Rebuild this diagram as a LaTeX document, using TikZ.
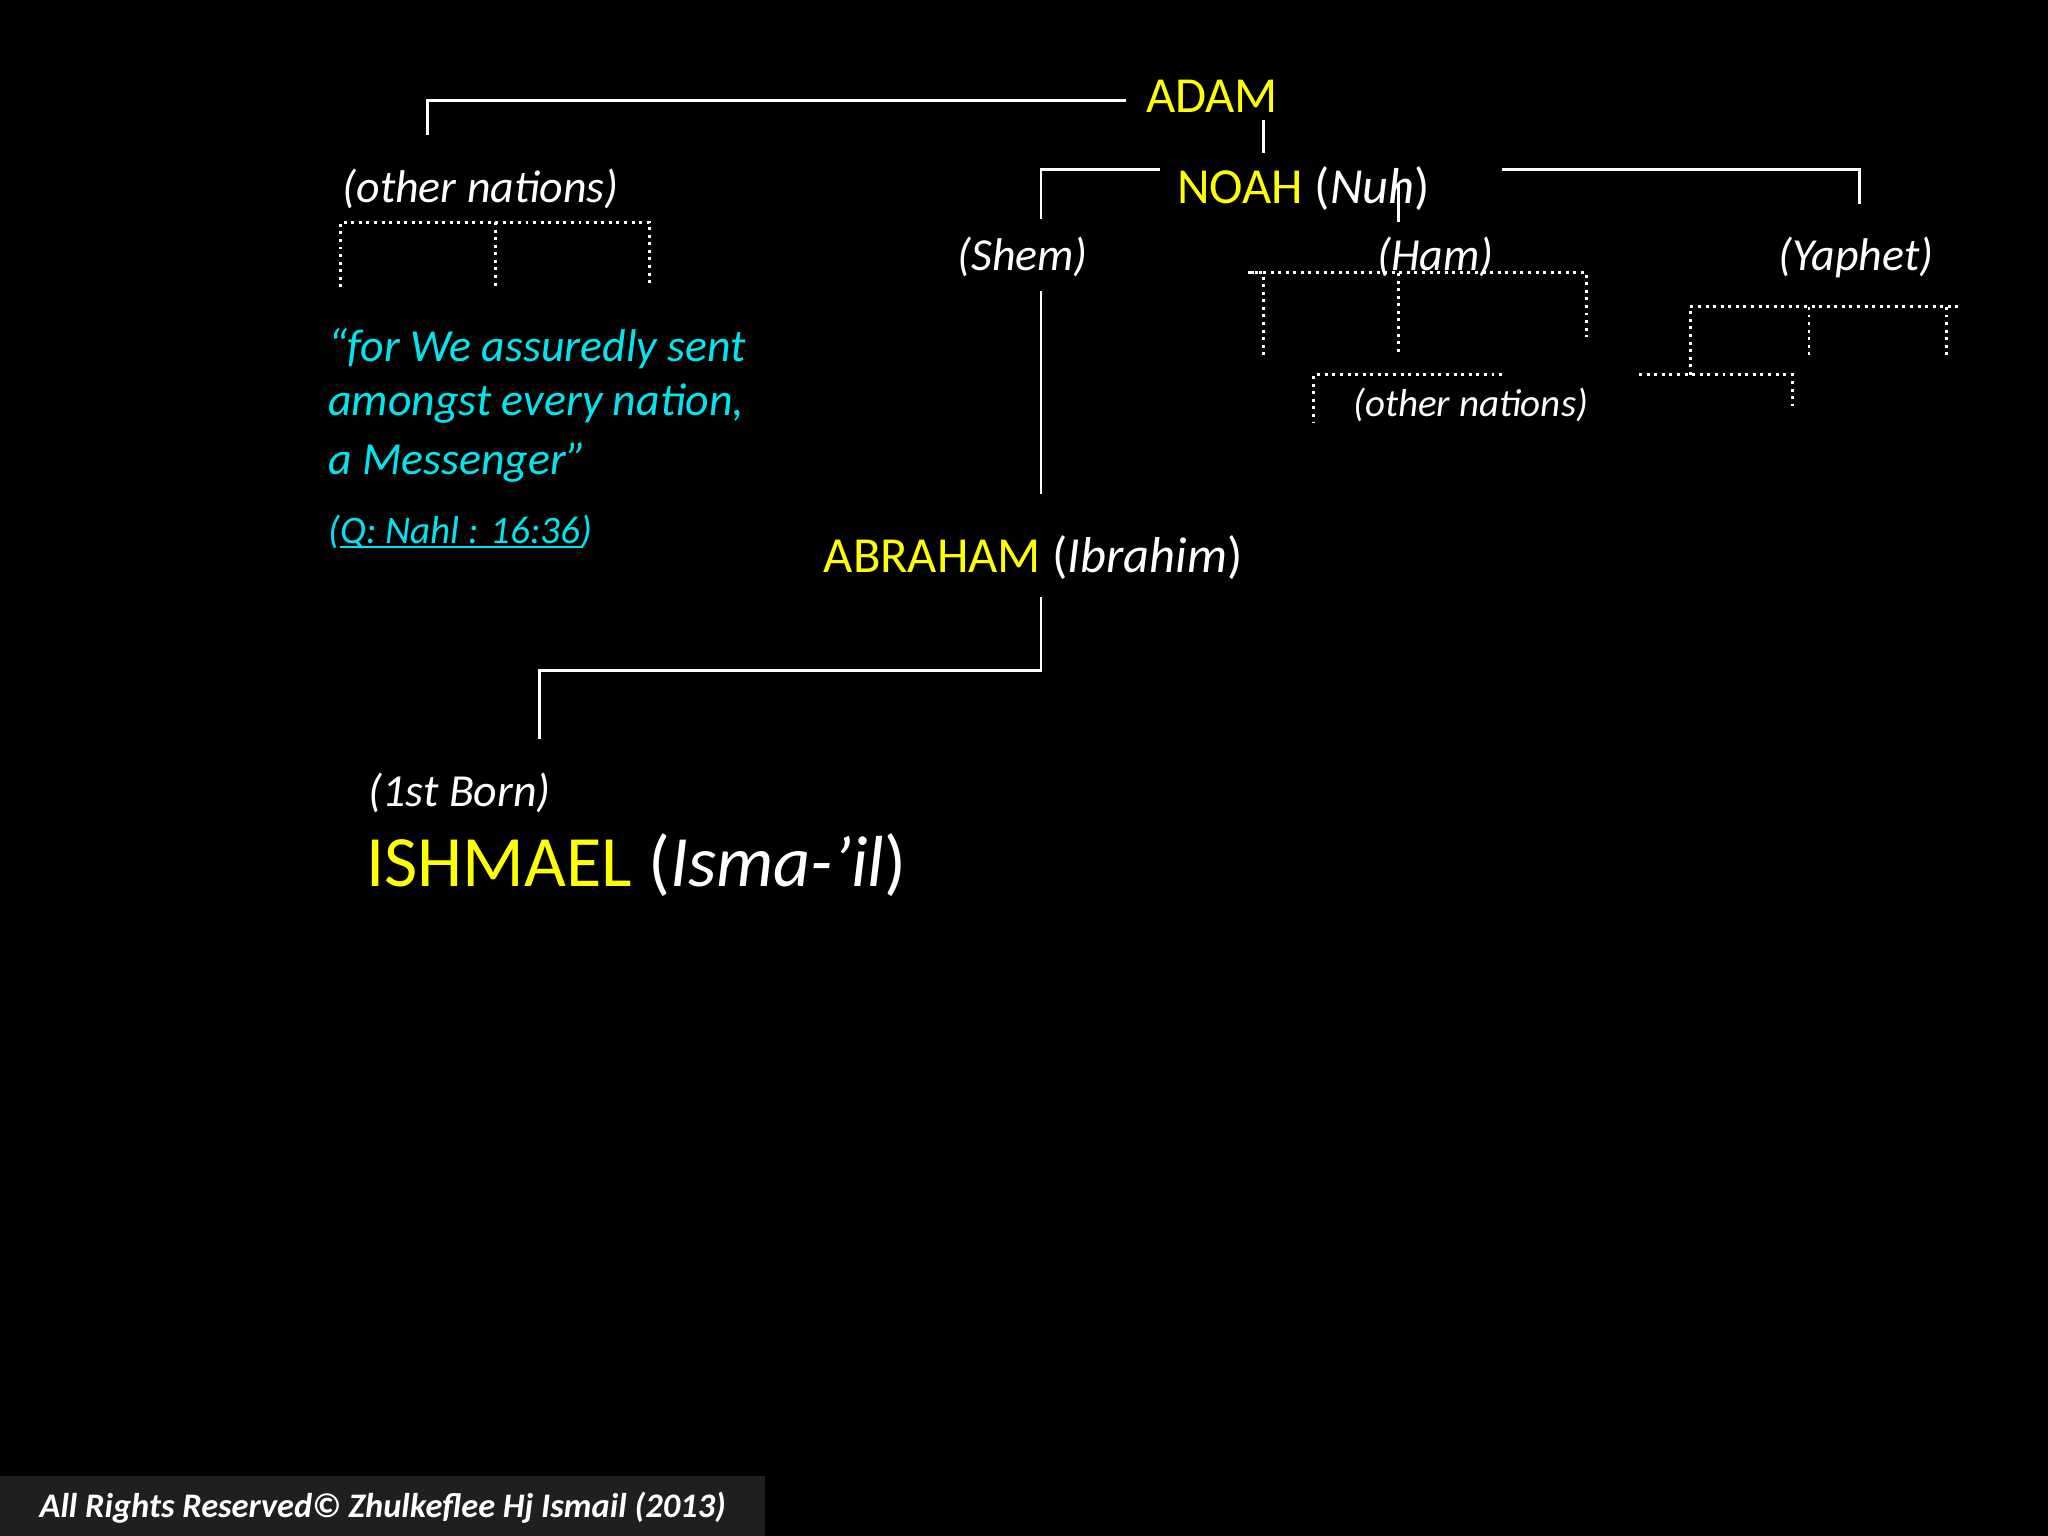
\documentclass[tikz,border=0pt]{standalone}
\usepackage{fontspec}
\setmainfont{Carlito}
\definecolor{yel}{RGB}{255,255,0}
\definecolor{cya}{RGB}{0,230,240}
\begin{document}
\begin{tikzpicture}[x=0.02cm,y=-0.02cm,
 ln/.style={white,line width=1.3pt},
 dl/.style={white,line width=1.3pt,dotted},
 t/.style={inner sep=0pt,text=white,font=\fontsize{20}{24}\selectfont},
 big/.style={inner sep=0pt,text=white,font=\fontsize{22}{26}\selectfont},
 q/.style={inner sep=0pt,anchor=west,text=cya,font=\fontsize{20}{24}\selectfont\itshape}]
\fill[black] (0,0) rectangle (1568,1176);
\useasboundingbox (0,0) rectangle (1568,1176);
\fill[black!88] (0,1130) rectangle (586,1176);
% solid lines
\draw[ln] (327,103)--(327,77)--(862,77);
\draw[ln] (967,92)--(967,117);
\draw[ln] (797,168)--(797,130)--(888,130);
\draw[ln] (1150,130)--(1424,130)--(1424,156);
\draw[ln] (1071,140)--(1071,170);
\draw[ln] (797,223)--(797,378);
\draw[ln] (797,457)--(797,513)--(413,513)--(413,566);
% dotted
\draw[dl] (261,220)--(261,170)--(497,170)--(497,220);
\draw[dl] (379,170)--(379,220);
\draw[dl] (967,272)--(967,209)--(955,209)--(1215,209)--(1215,258);
\draw[dl] (1071,209)--(1071,272);
\draw[dl] (1150,287)--(1006,287)--(1006,324);
\draw[dl] (1294,287)--(1294,235)--(1502,235);
\draw[dl] (1385,235)--(1385,272);
\draw[dl] (1490,235)--(1490,272);
\draw[dl] (1255,287)--(1372,287)--(1372,311);
% texts
\node[big,text=yel] (adam) at (928,74) {ADAM};
\node[big] (noah) at (998,144) {\textcolor{yel}{NOAH} (\textit{Nuh})};
\node[t] (onl) at (368,145) {\textit{(other nations)}};
\node[t] (shem) at (783,197) {\textit{(Shem)}};
\node[t] (ham) at (1099,197) {\textit{(Ham)}};
\node[t] (yap) at (1421,197) {\textit{(Yaphet)}};
\node[t,font=\fontsize{17}{20}\selectfont] (onr) at (1126,310) {\textit{(other nations)}};
\node[q] (q1) at (251,267) {“for We assuredly sent};
\node[q] (q2) at (251,309) {amongst every nation,};
\node[q] (q3) at (251,354) {a Messenger”};
\node[q,font=\fontsize{17}{20}\selectfont\itshape] (q4) at (251,407) {(Q: Nahl : 16:36)};
\draw[cya,line width=0.9pt] (260,419)--(446,419);
\node[big] (abr) at (791,427) {\textcolor{yel}{ABRAHAM} (\textit{Ibrahim})};
\node[t,anchor=west] (born) at (282,607) {\textit{(1st Born)}};
\node[t,anchor=west,font=\fontsize{31.5}{37}\selectfont] (ish) at (280,662) {\textcolor{yel}{ISHMAEL} (\textit{Isma-’il})};
\node[t,anchor=west,font=\fontsize{15}{18}\selectfont\bfseries\itshape] (foot) at (30,1154) {All Rights Reserved© Zhulkeflee Hj Ismail (2013)};
\end{tikzpicture}
\end{document}
